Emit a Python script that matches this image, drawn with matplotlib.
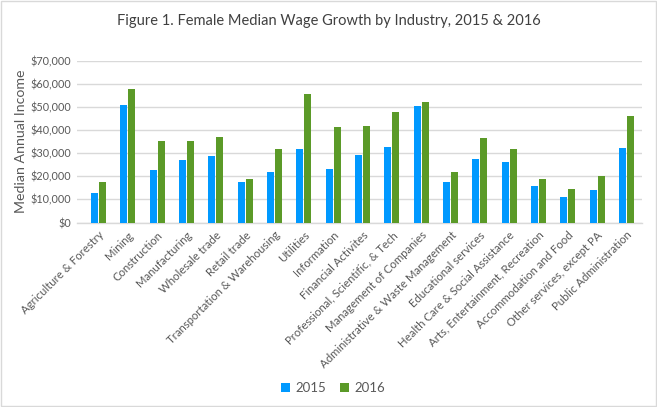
"""Figure 1: female median wage growth by industry, 2015 vs 2016 (grouped bars)."""

import matplotlib

matplotlib.use("Agg")
import matplotlib.pyplot as plt
import numpy as np
from matplotlib.patches import Rectangle
from matplotlib.ticker import FuncFormatter

INDUSTRIES = [
    "Agriculture & Forestry",
    "Mining",
    "Construction",
    "Manufacturing",
    "Wholesale trade",
    "Retail trade",
    "Transportation & Warehousing",
    "Utilities",
    "Information",
    "Financial Activites",
    "Professional, Scientific, & Tech",
    "Management of Companies",
    "Administrative & Waste Management",
    "Educational services",
    "Health Care & Social Assistance",
    "Arts, Entertainment, Recreation",
    "Accommodation and Food",
    "Other services, except PA",
    "Public Administration",
]
WAGE_2015 = [12600, 50800, 22900, 27200, 28900, 17700, 22000, 31900, 23300, 29300,
             32800, 50400, 17700, 27600, 26300, 15600, 10900, 13900, 32400]
WAGE_2016 = [17300, 57700, 35400, 35400, 37100, 19000, 31900, 55500, 41400, 41800,
             47800, 52100, 22000, 36600, 31900, 18600, 14300, 19900, 46100]
Y_TICKS = [0, 10000, 20000, 30000, 40000, 50000, 60000, 70000]

BLUE = "#0099FF"
GREEN = "#5B9A28"
GREY_TXT = "#595959"
TITLE_TXT = "#404040"
GRID = "#D9D9D9"

plt.rcParams["font.family"] = ["Lato", "DejaVu Sans"]


def main() -> None:
    fig = plt.figure(figsize=(6.57, 4.07), dpi=100)
    ax = fig.add_axes([0.1172, 0.4533, 0.8595, 0.3980])

    x = np.arange(len(INDUSTRIES))
    w = 0.24
    ax.bar(x - 0.14, WAGE_2015, w, color=BLUE, label="2015", zorder=3)
    ax.bar(x + 0.14, WAGE_2016, w, color=GREEN, label="2016", zorder=3)

    ax.set_xlim(-0.733, len(INDUSTRIES) - 0.482)
    ax.set_ylim(0, 70000)
    ax.set_yticks(Y_TICKS)
    ax.yaxis.set_major_formatter(FuncFormatter(lambda v, _: f"${v:,.0f}"))
    ax.grid(axis="y", color=GRID, lw=1.0, zorder=0)
    for side in ["top", "right", "left"]:
        ax.spines[side].set_visible(False)
    ax.spines["bottom"].set_color(GRID)
    ax.spines["bottom"].set_linewidth(1.0)

    ax.set_xticks(x)
    ax.set_xticklabels(INDUSTRIES, rotation=45, ha="right", va="top",
                       rotation_mode="anchor", fontsize=8.2, color=GREY_TXT)
    ax.tick_params(axis="x", length=0, pad=5)
    ax.tick_params(axis="y", length=0, pad=4, labelsize=7.8, labelcolor=GREY_TXT)
    ax.set_ylabel("Median Annual Income", fontsize=10.2, color=GREY_TXT)
    ax.yaxis.set_label_coords(-0.0885, 0.5)

    fig.text(0.5, 0.949, "Figure 1. Female Median Wage Growth by Industry, 2015 & 2016",
             ha="center", va="center", fontsize=10.5, color=TITLE_TXT)

    fig.legend(loc="center", bbox_to_anchor=(0.507, 0.047), ncol=2, frameon=False,
               fontsize=9.5, handlelength=0.7, handleheight=0.7, handletextpad=0.4,
               columnspacing=1.0, labelcolor=GREY_TXT)

    fig.patches.append(Rectangle((0.001, 0.002), 0.997, 0.996, transform=fig.transFigure,
                                 fill=False, edgecolor=GRID, lw=1.0))
    fig.savefig("out.png", dpi=100)
    plt.close(fig)


if __name__ == "__main__":
    main()
